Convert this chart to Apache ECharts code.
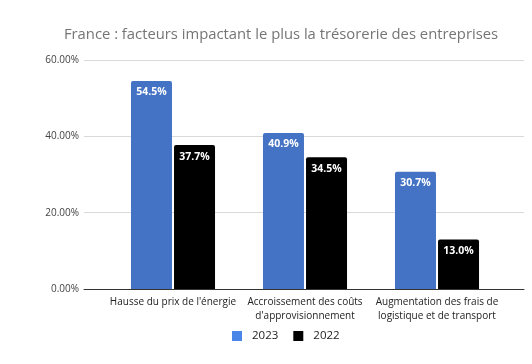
<!DOCTYPE html>
<html><head><meta charset="utf-8">
<script src="https://cdn.jsdelivr.net/npm/echarts@6/dist/echarts.min.js"></script>
<style>html,body{margin:0;padding:0;background:#fff}#c{width:532px;height:364px}</style>
</head><body><div id="c"></div>
<script>
const categories = ["Hausse du prix de l'énergie", "Accroissement des coûts\nd'approvisionnement", "Augmentation des frais de\nlogistique et de transport"];
const values2023 = [54.5, 40.9, 30.7];
const values2022 = [37.7, 34.5, 13.0];
const yTicks = [0, 20, 40, 60];
const seriesNames = ['2023', '2022'];
const font = '"Open Sans", "Noto Sans", sans-serif';
const chart = echarts.init(document.getElementById('c'));
chart.setOption({
  animation: false,
  title: {
    text: 'France : facteurs impactant le plus la trésorerie des entreprises',
    left: 276, top: 22, textAlign: 'center',
    textStyle: {fontFamily: font, fontSize: 14.8, fontWeight: 'normal', color: '#757575'}
  },
  legend: {
    data: [
      {name: seriesNames[0], itemStyle: {color: '#4A86E8'}},
      {name: seriesNames[1], itemStyle: {color: '#000000'}}
    ],
    left: 227, top: 325, icon: 'rect', itemWidth: 10, itemHeight: 10, itemGap: 15,
    textStyle: {fontFamily: font, fontSize: 11.5, color: '#222', padding: [0, 0, 0, 5]}
  },
  grid: [
    {left: 84, right: 8, top: 60, bottom: 75},
    {left: 107, right: 29, top: 60, bottom: 75}
  ],
  xAxis: [
    {gridIndex: 0, type: 'category', data: [''], axisLine: {lineStyle: {color: '#333', width: 1}}, axisTick: {show: false}, axisLabel: {show: false}},
    {gridIndex: 1, type: 'category', data: categories, axisLine: {show: false}, axisTick: {show: false},
     axisLabel: {fontFamily: font, fontSize: 10, color: '#222', lineHeight: 14, margin: 6, interval: 0}}
  ],
  yAxis: [
    {gridIndex: 0, type: 'value', min: yTicks[0], max: yTicks[yTicks.length-1], interval: 20,
     axisLine: {show: false}, axisTick: {show: false},
     splitLine: {lineStyle: {color: '#d9d9d9'}},
     axisLabel: {fontFamily: font, fontSize: 10, color: '#444', margin: 5, formatter: v => v.toFixed(2) + '%'}},
    {gridIndex: 1, type: 'value', min: 0, max: 60, show: false}
  ],
  series: [
    {name: seriesNames[0], type: 'bar', xAxisIndex: 1, yAxisIndex: 1, data: values2023, barWidth: 41, barGap: '5%',
     itemStyle: {color: '#4472C4', borderRadius: [2, 2, 0, 0]},
     label: {show: true, position: 'insideTop', distance: 6, color: '#fff', fontWeight: 'bold', fontFamily: font, fontSize: 10.5, formatter: p => p.value.toFixed(1) + '%'}},
    {name: seriesNames[1], type: 'bar', xAxisIndex: 1, yAxisIndex: 1, data: values2022, barWidth: 41,
     itemStyle: {color: '#000000', borderRadius: [2, 2, 0, 0]},
     label: {show: true, position: 'insideTop', distance: 6, color: '#fff', fontWeight: 'bold', fontFamily: font, fontSize: 10.5, formatter: p => p.value.toFixed(1) + '%'}}
  ]
});
</script></body></html>
